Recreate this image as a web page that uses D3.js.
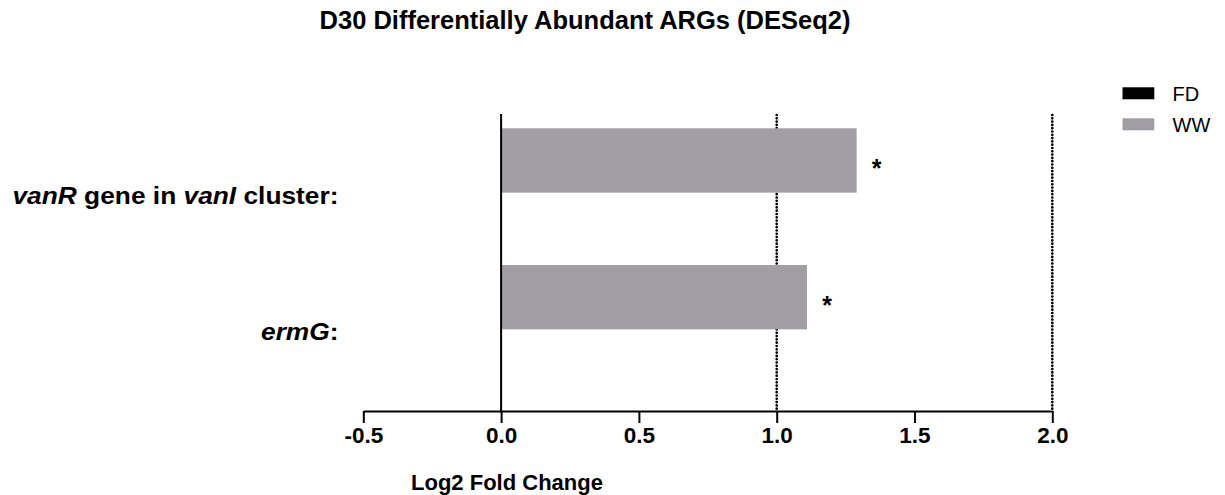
<!DOCTYPE html>
<html>
<head>
<meta charset="utf-8">
<script src="https://cdn.jsdelivr.net/npm/d3@7/dist/d3.min.js"></script>
<style>
  html, body { margin: 0; padding: 0; background: #ffffff; }
  svg { display: block; font-family: "Liberation Sans", Arial, Helvetica, sans-serif; }
</style>
</head>
<body>
<svg id="chart" width="1225" height="495"></svg>
<script>
// Genes (categories), top to bottom
const categories = ["vanR gene in vanI cluster", "ermG"];
// Rich label pieces for each gene: [text, italic?]
const categoryLabels = [
  [["vanR", true], [" gene in ", false], ["vanI", true], [" cluster:", false]],
  [["ermG", true], [":", false]]
];
// Series drawn inside each gene group (WW on top, FD beneath)
const seriesNames = ["WW", "FD"];
const wwValues = [1.29, 1.11];
const fdValues = [0, 0];
const significance = ["*", "*"];
// Legend order and colours
const legendNames = ["FD", "WW"];
const seriesColors = { FD: "#000000", WW: "#a19fa5" };
// Axis ticks and reference lines
const xTicks = [-0.5, 0.0, 0.5, 1.0, 1.5, 2.0];
const refLines = [1.0, 2.0];

const svg = d3.select("#chart");

const plotTop = 114, plotBottom = 411;

const x = d3.scaleLinear().domain([-0.5, 2.0]).range([363.3, 1052.3]);

const y = d3.scaleBand()
  .domain(categories)
  .range([114, 408])
  .paddingInner(0.0585)
  .paddingOuter(0.1046);

const ySub = d3.scaleBand()
  .domain(seriesNames)
  .range([0, y.bandwidth()])
  .padding(0);

const rows = categories.map((c, i) => ({
  cat: c,
  label: categoryLabels[i],
  sig: significance[i],
  values: { WW: wwValues[i], FD: fdValues[i] }
}));

// Title
svg.append("text")
  .attr("x", 585).attr("y", 28.5)
  .attr("text-anchor", "middle")
  .attr("font-size", 25.5).attr("font-weight", "bold")
  .attr("fill", "#000")
  .text("D30 Differentially Abundant ARGs (DESeq2)");

// Dotted reference lines (round dots)
svg.append("g").selectAll("line")
  .data(refLines).join("line")
  .attr("x1", d => x(d)).attr("x2", d => x(d))
  .attr("y1", plotTop + 1).attr("y2", plotBottom)
  .attr("stroke", "#000")
  .attr("stroke-width", 2.7)
  .attr("stroke-linecap", "round")
  .attr("stroke-dasharray", "0,3.3");

// Bars
const groups = svg.append("g").selectAll("g")
  .data(rows).join("g")
  .attr("transform", d => `translate(0,${y(d.cat)})`);

groups.selectAll("rect")
  .data(d => seriesNames.map(s => ({ s, v: d.values[s] })))
  .join("rect")
  .attr("x", d => x(Math.min(0, d.v)))
  .attr("y", d => ySub(d.s))
  .attr("width", d => Math.abs(x(d.v) - x(0)))
  .attr("height", ySub.bandwidth())
  .attr("fill", d => seriesColors[d.s]);

// Significance marks beside the WW bars
groups.append("text")
  .attr("x", d => x(d.values.WW) + 20)
  .attr("y", ySub("WW") + ySub.bandwidth() / 2 + 17)
  .attr("text-anchor", "middle")
  .attr("font-size", 25).attr("font-weight", "bold")
  .attr("fill", "#000")
  .text(d => d.sig);

// Vertical zero axis
svg.append("line")
  .attr("x1", x(0)).attr("x2", x(0))
  .attr("y1", plotTop).attr("y2", plotBottom)
  .attr("stroke", "#000").attr("stroke-width", 2);

// Category labels, right aligned, centred on each group
const labelRight = 338.5;
rows.forEach(d => {
  const cy = y(d.cat) + y.bandwidth() / 2 + 11;
  const g = svg.append("g")
    .attr("transform", `translate(${labelRight},${cy}) scale(1.12,1)`);
  const t = g.append("text")
    .attr("x", 0).attr("y", 0)
    .attr("text-anchor", "end")
    .attr("font-size", 23.5).attr("font-weight", "bold")
    .attr("fill", "#000");
  d.label.forEach(([txt, it]) => {
    t.append("tspan")
      .attr("font-style", it ? "italic" : "normal")
      .text(txt);
  });
});

// X axis
const xAxis = d3.axisBottom(x)
  .tickValues(xTicks)
  .tickFormat(d => d.toFixed(1))
  .tickSize(12)
  .tickSizeOuter(0);

const gx = svg.append("g")
  .attr("transform", `translate(0,${plotBottom})`)
  .call(xAxis);
gx.select(".domain").attr("stroke", "#000").attr("stroke-width", 2);
gx.selectAll(".tick line").attr("stroke", "#000").attr("stroke-width", 2);
gx.selectAll(".tick text")
  .attr("fill", "#000")
  .attr("font-family", "'Liberation Sans', Arial, sans-serif")
  .attr("font-size", 22.5).attr("font-weight", "bold")
  .attr("y", 16).attr("dy", "0.71em");

// X axis title
svg.append("text")
  .attr("x", 507).attr("y", 489.5)
  .attr("text-anchor", "middle")
  .attr("font-size", 22).attr("font-weight", "bold")
  .attr("fill", "#000")
  .text("Log2 Fold Change");

// Legend
const legend = svg.append("g").selectAll("g")
  .data(legendNames).join("g")
  .attr("transform", (d, i) => `translate(1122.5,${87.3 + i * 31})`);
legend.append("rect")
  .attr("width", 31.8).attr("height", 12)
  .attr("fill", d => seriesColors[d]);
legend.append("text")
  .attr("x", 50).attr("y", 13.5)
  .attr("font-size", 20)
  .attr("fill", "#000")
  .text(d => d);
</script>
</body>
</html>
